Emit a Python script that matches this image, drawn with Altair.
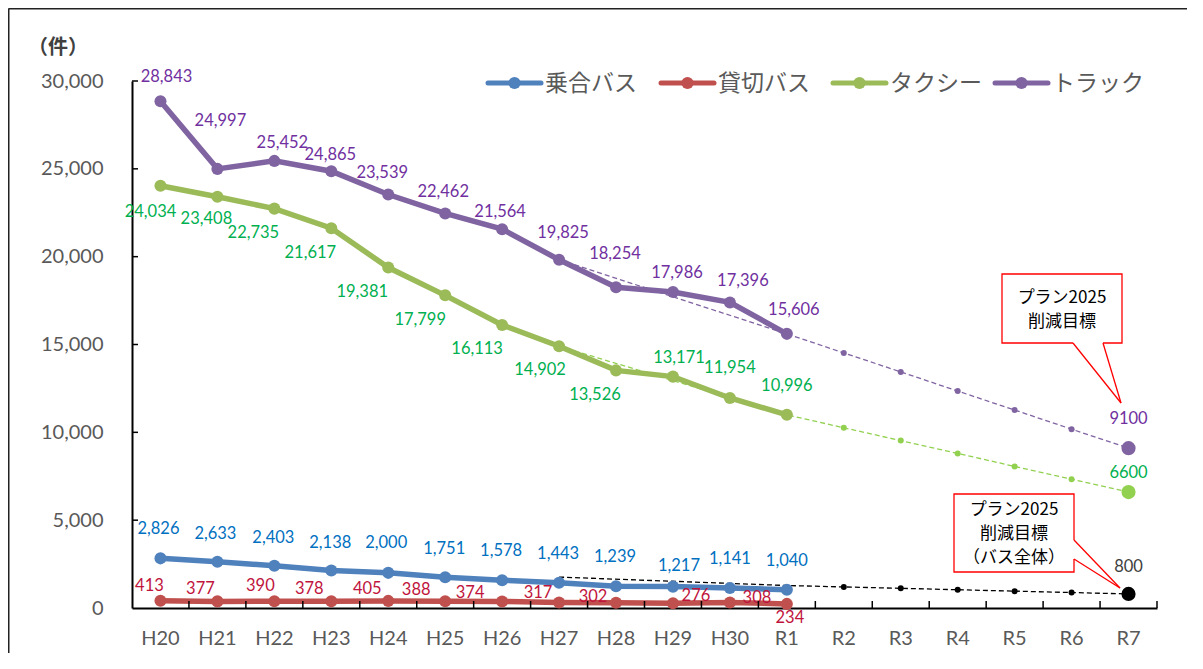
import altair as alt
import pandas as pd

# ---------------- data ----------------
categories = ["H20", "H21", "H22", "H23", "H24", "H25", "H26", "H27", "H28", "H29",
              "H30", "R1", "R2", "R3", "R4", "R5", "R6", "R7"]
actual_years = ["H20", "H21", "H22", "H23", "H24", "H25", "H26", "H27", "H28", "H29",
                "H30", "R1"]
series_names = ["乗合バス", "貸切バス", "タクシー", "トラック"]
bus = [2826, 2633, 2403, 2138, 2000, 1751, 1578, 1443, 1239, 1217, 1141, 1040]
charter = [413, 377, 390, 378, 405, 388, 374, 317, 302, 276, 308, 234]
taxi = [24034, 23408, 22735, 21617, 19381, 17799, 16113, 14902, 13526, 13171, 11954, 10996]
truck = [28843, 24997, 25452, 24865, 23539, 22462, 21564, 19825, 18254, 17986, 17396, 15606]

trend_years = ["H27", "R1", "R2", "R3", "R4", "R5", "R6", "R7"]
truck_trend = [19825, 15606, 14520, 13440, 12350, 11270, 10180, 9100]
taxi_trend = [14902, 10996, 10260, 9530, 8800, 8060, 7330, 6600]
bus_total_trend = [1760, 1280, 1200, 1120, 1040, 960, 880, 800]

y_ticks = [0, 5000, 10000, 15000, 20000, 25000, 30000]
unit_label = "（件）"
callout1_lines = ["プラン2025", "削減目標"]
callout2_lines = ["プラン2025", "削減目標", "（バス全体）"]

# ---------------- styles ----------------
line_colors = ["#4F81BD", "#C0504D", "#9BBB59", "#8064A2"]
label_colors = ["#0070C0", "#C0143C", "#00B050", "#7030A0"]
trend_colors = ["#8064A2", "#92D050", "#000000"]
trend_label_colors = ["#7030A0", "#00B050", "#404040"]
FONT = "Lato"
JFONT = "Noto Sans CJK JP"
W, H = 1025, 527
legend_x = [354, 527, 699, 861]   # left end of each legend symbol (plot px)
legend_y = 2

label_offsets = {
    "乗合バス": [(-2, -29), (-2, -28), (-1, -28), (-1, -27), (-2, -30), (-1, -28),
              (-1, -29), (-1, -29), (-1, -29), (6, -21), (0, -29), (0, -29)],
    "貸切バス": [(-11, -15), (-17, -12), (-14, -15), (-22, -12), (-21, -12), (-29, -11),
              (-32, -8), (-21, -9), (-23, -6), (23, -7), (27, -5), (3, 14)],
    "タクシー": [(-10, 26), (-11, 22), (-21, 24), (-21, 25), (-26, 24), (-25, 25),
              (-25, 24), (-19, 24), (-21, 25), (6, -19), (0, -30), (0, -29)],
    "トラック": [(6, -24), (3, -48), (8, -18), (-1, -16), (-6, -21), (-2, -21),
              (-2, -17), (4, -27), (-1, -33), (4, -19), (13, -21), (7, -24)],
}
target_label_dy = [-29, -19, -27]

# ---------------- tables ----------------
rows = []
for name, vals in zip(series_names, [bus, charter, taxi, truck]):
    for i, (c, v) in enumerate(zip(actual_years, vals)):
        rows.append({"year": c, "series": name, "value": v, "idx": i})
main_df = pd.DataFrame(rows)

xscale = alt.Scale(type="band", domain=categories, paddingInner=0, paddingOuter=0)
yscale = alt.Scale(domain=[0, 30000], nice=False, zero=True)

x_axis = alt.Axis(title=None, labelAngle=0, labelFont=FONT, labelFontSize=20,
                  labelColor="#595959", domainColor="#000000", domainWidth=2,
                  ticks=False, tickSize=0, labelPadding=20, grid=False)
y_axis = alt.Axis(title=None, values=y_ticks, labelExpr="format(datum.value, ',')",
                  labelFont=FONT, labelFontSize=20, labelColor="#595959",
                  domainColor="#000000", domainWidth=2, ticks=False, tickSize=0,
                  labelPadding=29, grid=False)


def xenc(**kw):
    return alt.X("year:N", scale=xscale, axis=x_axis, **kw)


def yenc(field="value:Q"):
    return alt.Y(field, scale=yscale, axis=y_axis)


layers = []

# trend lines (dashed) + dots
for tvals, tcol in zip([truck_trend, taxi_trend, bus_total_trend], trend_colors):
    tdf = pd.DataFrame({"year": trend_years, "value": tvals, "idx": list(range(len(tvals)))})
    layers.append(alt.Chart(tdf).mark_line(color=tcol, strokeWidth=1.3, strokeDash=[5, 3])
                  .encode(x=xenc(), y=yenc(), order="idx:Q"))
    layers.append(alt.Chart(tdf).transform_filter(
        alt.FieldOneOfPredicate(field="year", oneOf=trend_years[2:-1]))
        .mark_circle(color=tcol, size=36, opacity=1).encode(x=xenc(), y=yenc()))
    layers.append(alt.Chart(tdf).transform_filter(
        alt.FieldEqualPredicate(field="year", equal=trend_years[-1]))
        .mark_circle(color=tcol, size=200, opacity=1).encode(x=xenc(), y=yenc()))

# main lines and points
cscale = alt.Scale(domain=series_names, range=line_colors)
layers.append(alt.Chart(main_df).mark_line(strokeWidth=5.5).encode(
    x=xenc(), y=yenc(),
    color=alt.Color("series:N", scale=cscale, legend=None),
    order="idx:Q"))
layers.append(alt.Chart(main_df).mark_circle(size=145, opacity=1).encode(
    x=xenc(), y=yenc(),
    color=alt.Color("series:N", scale=cscale, legend=None)))

# data labels
for name, lcol in zip(series_names, label_colors):
    sub = main_df[main_df["series"] == name]
    for (_, r), (dx, dy) in zip(sub.iterrows(), label_offsets[name]):
        layers.append(alt.Chart(main_df).transform_filter(
            (alt.datum.series == name) & (alt.datum.year == r["year"]))
            .mark_text(font=FONT, fontSize=16.5, color=lcol, dx=dx, dy=dy)
            .encode(x=xenc(), y=yenc(), text=alt.Text("value:Q", format=",")))

# target labels
for tvals, tcol, dy in zip([truck_trend, taxi_trend, bus_total_trend], trend_label_colors, target_label_dy):
    tdf = pd.DataFrame({"year": [trend_years[-1]], "value": [tvals[-1]]})
    layers.append(alt.Chart(tdf).mark_text(font=FONT, fontSize=16.5, color=tcol, dy=dy)
                  .encode(x=xenc(), y=yenc(), text=alt.Text("value:Q", format="d")))

# inside ticks
ytdf = pd.DataFrame({"v": y_ticks[1:]})
layers.append(alt.Chart(ytdf).mark_rule(color="#000000", strokeWidth=1.5).encode(
    y=yenc("v:Q"), x=alt.value(0), x2=alt.value(6)))
xtdf = pd.DataFrame({"year": categories[1:]})
layers.append(alt.Chart(xtdf).mark_rule(color="#000000", strokeWidth=1.5).encode(
    x=xenc(bandPosition=0), y=alt.value(H - 7), y2=alt.value(H)))
one = pd.DataFrame({"k": [0]})
layers.append(alt.Chart(one).mark_rule(color="#000000", strokeWidth=1.5).encode(
    x=alt.value(W), y=alt.value(H - 7), y2=alt.value(H)))

# legend (line + dot symbols)
for name, col, lx in zip(series_names, line_colors, legend_x):
    layers.append(alt.Chart(one).mark_rule(color=col, strokeWidth=5, strokeCap="round").encode(
        x=alt.value(lx + 2), x2=alt.value(lx + 55), y=alt.value(legend_y)))
    layers.append(alt.Chart(one).mark_circle(color=col, size=150, opacity=1).encode(
        x=alt.value(lx + 28.5), y=alt.value(legend_y)))
    layers.append(alt.Chart(pd.DataFrame({"t": [name]})).mark_text(
        font=JFONT, fontSize=23, color="#595959", align="left", baseline="middle").encode(
        text="t:N", x=alt.value(lx + 59), y=alt.value(legend_y + 1)))

# unit label
layers.append(alt.Chart(pd.DataFrame({"t": [unit_label]})).mark_text(
    font=JFONT, fontSize=20, fontWeight="bold", color="#404040").encode(
    text="t:N", x=alt.value(-74), y=alt.value(-33)))


def callout(x0, x1, y0, y1, gap, tip, lines, cx, cy0, lh):
    out = []
    out.append(alt.Chart(one).mark_rect(fill="white", stroke="#FF0000", strokeWidth=1.3).encode(
        x=alt.value(x0), x2=alt.value(x1), y=alt.value(y0), y2=alt.value(y1)))
    (gx0, gy0), (gx1, gy1) = gap
    out.append(alt.Chart(one).mark_rule(color="white", strokeWidth=2.5).encode(
        x=alt.value(gx0), x2=alt.value(gx1), y=alt.value(gy0), y2=alt.value(gy1)))
    for (px, py) in gap:
        out.append(alt.Chart(one).mark_rule(color="#FF0000", strokeWidth=1.3).encode(
            x=alt.value(px), x2=alt.value(tip[0]), y=alt.value(py), y2=alt.value(tip[1])))
    for i, t in enumerate(lines):
        out.append(alt.Chart(pd.DataFrame({"t": [t]})).mark_text(
            font=JFONT, fontSize=17, color="#000000", baseline="middle").encode(
            text="t:N", x=alt.value(cx), y=alt.value(cy0 + i * lh)))
    return out


layers += callout(870, 990, 193, 262, [(941, 262), (971, 262)], (989, 322),
                  callout1_lines, 930, 217, 24)
layers += callout(822, 942, 413, 491, [(942, 459), (942, 478)], (988, 507),
                  callout2_lines, 882, 429, 24)

# outer frame (left and top edges)
layers.append(alt.Chart(one).mark_rule(color="#222222", strokeWidth=2).encode(
    x=alt.value(-123.5), y=alt.value(-72.5), y2=alt.value(H + 45)))
layers.append(alt.Chart(one).mark_rule(color="#222222", strokeWidth=2).encode(
    x=alt.value(-123.5), x2=alt.value(W + 30), y=alt.value(-72.5)))

chart = alt.layer(*layers).properties(
    width=W, height=H,
    background="white",
    padding={"left": 124, "top": 73, "right": 30, "bottom": 45},
    autosize=alt.AutoSizeParams(type="none"),
).configure_view(stroke=None)

chart.save("out.html", embed_options={"renderer": "svg", "actions": False})
